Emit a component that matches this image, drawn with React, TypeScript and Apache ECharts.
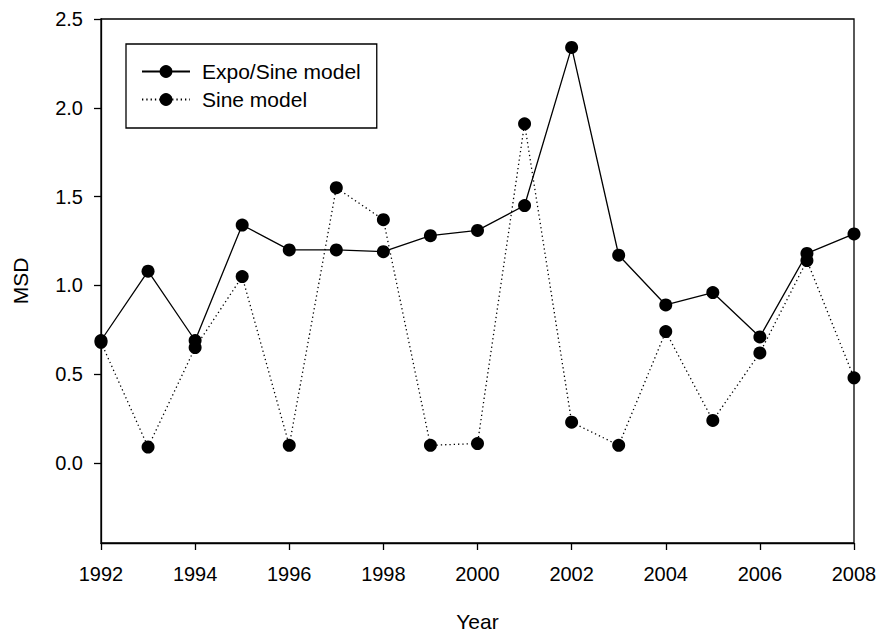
import React, { useEffect, useRef } from "react";
import * as echarts from "echarts";

const years = [1992, 1993, 1994, 1995, 1996, 1997, 1998, 1999, 2000, 2001, 2002, 2003, 2004, 2005, 2006, 2007, 2008];
const expoSine = [0.69, 1.08, 0.69, 1.34, 1.2, 1.2, 1.19, 1.28, 1.31, 1.45, 2.34, 1.17, 0.89, 0.96, 0.71, 1.18, 1.29];
const sine = [0.68, 0.09, 0.65, 1.05, 0.1, 1.55, 1.37, 0.1, 0.11, 1.91, 0.23, 0.1, 0.74, 0.24, 0.62, 1.14, 0.48];
const yTicks = [0, 0.5, 1, 1.5, 2, 2.5];
const seriesNames = ["Expo/Sine model", "Sine model"];

const FONT = "'Liberation Sans', Arial, sans-serif";

export default function App() {
  const ref = useRef<HTMLDivElement>(null);
  useEffect(() => {
    if (!ref.current) return;
    const chart = echarts.init(ref.current, null, { renderer: "svg" });
    const toPairs = (vals: number[]) => years.map((y, i) => [y, vals[i]]);
    chart.setOption({
      animation: false,
      backgroundColor: "#fff",
      textStyle: { fontFamily: FONT, color: "#000" },
      grid: {
        left: 101,
        right: 28,
        top: 19,
        bottom: 92,
        show: true,
        borderColor: "#000",
        borderWidth: 1.3,
        backgroundColor: "transparent",
      },
      legend: {
        orient: "vertical",
        left: 126,
        top: 44,
        padding: [17, 16, 18, 15],
        borderColor: "#000",
        borderWidth: 1.3,
        itemWidth: 48,
        itemHeight: 16,
        itemGap: 7,
        data: seriesNames,
        textStyle: { fontFamily: FONT, fontSize: 21, color: "#000", lineHeight: 20, padding: [0, 0, 0, 7] },
      },
      xAxis: {
        type: "value",
        min: 1992,
        max: 2008,
        interval: 2,
        name: "Year",
        nameLocation: "middle",
        nameGap: 68,
        nameTextStyle: { fontFamily: FONT, fontSize: 21, color: "#000" },
        axisLine: { onZero: false, lineStyle: { color: "#000", width: 1.3 } },
        axisTick: { show: true, inside: false, length: 7, lineStyle: { color: "#000", width: 1.3 } },
        axisLabel: { fontFamily: FONT, fontSize: 20, color: "#000", margin: 21, formatter: (v: number) => String(v) },
        splitLine: { show: false },
      },
      yAxis: {
        type: "value",
        min: -0.45,
        max: 2.5,
        name: "MSD",
        nameLocation: "middle",
        nameGap: 70,
        nameTextStyle: { fontFamily: FONT, fontSize: 21, color: "#000" },
        axisLine: { show: true, onZero: false, lineStyle: { color: "#000", width: 1.3 } },
        axisTick: { show: true, inside: false, length: 7, lineStyle: { color: "#000", width: 1.3 }, customValues: yTicks },
        axisLabel: {
          fontFamily: FONT,
          fontSize: 20,
          color: "#000",
          margin: 18,
          customValues: yTicks,
          formatter: (v: number) => v.toFixed(1),
        },
        splitLine: { show: false },
      },
      series: [
        {
          name: seriesNames[0],
          type: "line",
          data: toPairs(expoSine),
          symbol: "circle",
          symbolSize: 13,
          itemStyle: { color: "#000" },
          lineStyle: { color: "#000", width: 1.3, type: "solid" },
          z: 3,
        },
        {
          name: seriesNames[1],
          type: "line",
          data: toPairs(sine),
          symbol: "circle",
          symbolSize: 13,
          itemStyle: { color: "#000" },
          lineStyle: { color: "#000", width: 1.3, type: [1.3, 3] },
          z: 2,
        },
      ],
    });
    return () => chart.dispose();
  }, []);
  return (
    <div
      ref={ref}
      style={{ position: "fixed", left: 0, top: 0, width: 882, height: 637, background: "#fff" }}
    />
  );
}
